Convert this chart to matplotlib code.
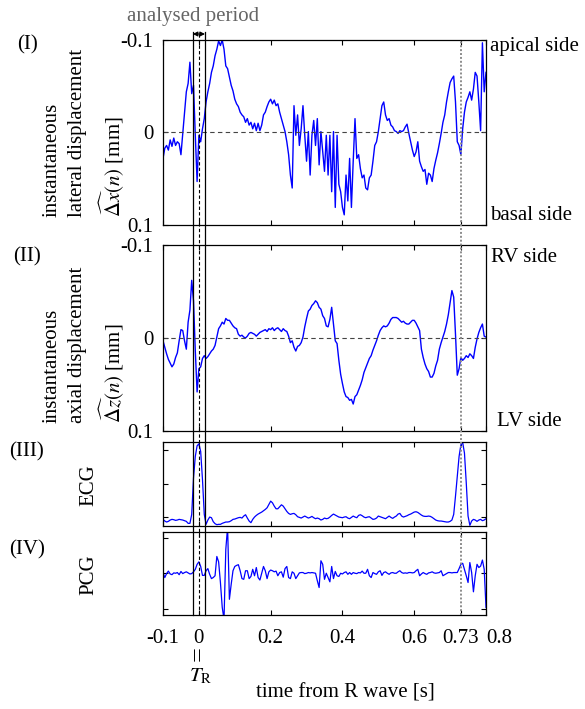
import numpy as np
import matplotlib
matplotlib.use('Agg')
import matplotlib.pyplot as plt
from matplotlib.transforms import blended_transform_factory

plt.rcParams['font.family'] = ['Liberation Serif', 'DejaVu Serif']
plt.rcParams['mathtext.fontset'] = 'stix'
plt.rcParams['font.size'] = 15

# sampled every 5 ms, starting 0.1 s before the R wave
t_start = -0.1
t_step = 0.005

# (I) lateral displacement [mm], positive = basal side
lateral = [
    0.028, 0.017, 0.014, 0.019, 0.008, 0.015, 0.006, 0.014, 0.010, 0.012,
    0.024, 0.001, -0.022, -0.044, -0.053, -0.076, -0.042, -0.051, 0.003, 0.053,
    0.003, 0.010, -0.004, -0.015, -0.033, -0.044, -0.053, -0.065, -0.072, -0.083,
    -0.090, -0.099, -0.094, -0.100, -0.090, -0.072, -0.069, -0.060, -0.051, -0.045,
    -0.036, -0.031, -0.028, -0.022, -0.019, -0.017, -0.011, -0.015, -0.008, -0.011,
    -0.004, -0.010, -0.002, -0.010, -0.002, -0.008, -0.019, -0.022, -0.028, -0.033,
    -0.036, -0.031, -0.035, -0.029, -0.031, -0.022, -0.015, -0.008, -0.001, 0.010,
    0.024, 0.046, 0.060, -0.029, 0.003, -0.019, 0.014, -0.004, -0.029, 0.003,
    0.031, -0.001, 0.046, 0.003, -0.013, 0.014, -0.015, 0.035, -0.001, 0.021,
    0.042, 0.003, 0.046, 0.003, 0.064, -0.001, 0.081, 0.003, 0.056, 0.064,
    0.081, 0.089, 0.046, 0.074, 0.028, 0.081, 0.031, -0.015, 0.028, 0.024,
    0.039, 0.049, 0.046, 0.060, 0.062, 0.049, 0.046, 0.031, 0.014, 0.010,
    -0.001, -0.015, -0.029, -0.033, -0.019, -0.013, -0.015, -0.008, -0.006, -0.002,
    -0.001, 0.001, -0.002, -0.001, -0.002, -0.006, -0.009, 0.001, 0.010, 0.019,
    0.026, 0.021, 0.010, 0.031, 0.037, 0.042, 0.040, 0.056, 0.044, 0.046,
    0.053, 0.039, 0.030, 0.022, 0.012, 0.001, -0.011, -0.019, -0.033, -0.044,
    -0.054, -0.058, -0.061, -0.033, 0.010, 0.014, 0.024, -0.004, -0.022, -0.033,
    -0.038, -0.044, -0.035, -0.047, -0.065, -0.061, -0.033, -0.002, -0.097, -0.044,
    -0.065,
]

# (II) axial displacement [mm], positive = LV side
axial = [
    0.003, 0.010, 0.017, 0.023, 0.027, 0.031, 0.028, 0.021, 0.016, 0.003,
    -0.009, -0.008, 0.003, 0.012, -0.017, -0.030, -0.062, -0.040, 0.014, 0.058,
    0.033, 0.031, 0.022, 0.019, 0.022, 0.020, 0.017, 0.014, 0.012, 0.008,
    -0.001, -0.010, -0.013, -0.017, -0.015, -0.021, -0.019, -0.019, -0.016, -0.013,
    -0.011, -0.010, -0.004, -0.002, -0.003, -0.001, 0.000, -0.002, -0.005, -0.006,
    -0.005, -0.004, -0.002, -0.004, -0.006, -0.007, -0.008, -0.009, -0.007, -0.010,
    -0.009, -0.011, -0.008, -0.010, -0.011, -0.009, -0.007, -0.010, -0.008, -0.007,
    -0.002, 0.005, 0.003, 0.010, 0.014, 0.009, 0.008, 0.005, -0.001, -0.012,
    -0.021, -0.029, -0.031, -0.035, -0.037, -0.040, -0.038, -0.033, -0.031, -0.024,
    -0.021, -0.013, -0.012, -0.020, -0.033, -0.015, 0.003, 0.006, 0.024, 0.039,
    0.049, 0.058, 0.063, 0.064, 0.067, 0.066, 0.071, 0.063, 0.061, 0.056,
    0.051, 0.045, 0.037, 0.032, 0.027, 0.022, 0.019, 0.013, 0.008, 0.003,
    -0.003, -0.008, -0.011, -0.013, -0.012, -0.013, -0.016, -0.020, -0.022, -0.022,
    -0.022, -0.021, -0.019, -0.017, -0.018, -0.016, -0.015, -0.015, -0.017, -0.019,
    -0.019, -0.016, -0.012, -0.008, 0.012, 0.021, 0.028, 0.033, 0.036, 0.042,
    0.042, 0.038, 0.030, 0.024, 0.012, 0.005, -0.001, -0.007, -0.015, -0.025,
    -0.038, -0.051, -0.044, -0.004, 0.040, 0.033, 0.021, 0.024, 0.022, 0.019,
    0.021, 0.017, 0.019, 0.022, 0.010, 0.001, -0.006, -0.011, -0.015, -0.002,
    -0.001,
]

# (III) ECG, arbitrary units (R peak ~ 1)
ecg = [
    -0.04, -0.065, -0.08, -0.07, -0.05, -0.04, -0.045, -0.055, -0.05, -0.04,
    -0.045, -0.05, -0.06, -0.07, -0.10, -0.10, 0.035, 0.585, 0.91, 1.07,
    1.10, 0.985, 0.56, 0.035, -0.115, -0.05, -0.005, -0.015, -0.075, -0.105,
    -0.12, -0.115, -0.115, -0.10, -0.09, -0.08, -0.08, -0.075, -0.06, -0.04,
    -0.035, -0.025, -0.015, -0.01, -0.02, 0.01, 0.03, -0.02, -0.065, -0.09,
    -0.04, -0.005, 0.02, 0.04, 0.055, 0.07, 0.09, 0.11, 0.135, 0.185,
    0.235, 0.21, 0.16, 0.12, 0.12, 0.15, 0.18, 0.16, 0.12, 0.08,
    0.05, 0.035, 0.045, 0.05, 0.03, 0.0, -0.01, -0.02, -0.005, 0.01,
    -0.005, -0.02, -0.01, 0.005, -0.015, -0.03, -0.02, -0.03, -0.05, -0.04,
    -0.02, -0.03, -0.025, -0.005, 0.02, 0.04, 0.025, 0.01, -0.005, -0.01,
    -0.015, -0.005, 0.0, -0.02, -0.03, -0.01, 0.01, -0.005, -0.015, 0.02,
    0.03, 0.015, -0.005, -0.015, -0.005, 0.0, -0.02, -0.04, -0.035, -0.02,
    0.01, 0.0, -0.01, -0.02, -0.03, -0.01, 0.01, -0.01, -0.025, -0.005,
    0.01, 0.04, 0.05, 0.01, -0.005, 0.005, 0.015, 0.03, 0.04, 0.055,
    0.07, 0.075, 0.065, 0.045, 0.025, 0.01, 0.005, 0.005, 0.01, 0.005,
    -0.01, -0.03, -0.05, -0.06, -0.065, -0.065, -0.07, -0.075, -0.08, -0.08,
    -0.07, -0.05, 0.035, 0.31, 0.61, 0.91, 1.085, 1.12, 0.96, 0.51,
    0.01, -0.13, -0.065, -0.04, -0.05, -0.07, -0.05, -0.04, -0.06, -0.05,
    -0.03,
]

# (IV) PCG, arbitrary units
pcg = [
    0.02, -0.12, -0.01, 0.06, -0.02, -0.04, 0.01, 0.0, 0.02, -0.04,
    0.05, -0.01, 0.02, 0.04, 0.01, -0.02, -0.01, 0.04, 0.11, 0.25,
    0.32, 0.19, -0.06, -0.06, 0.07, 0.13, -0.03, -0.15, -0.12, -0.07,
    0.47, 0.32, -0.26, -0.95, -1.3, 0.67, 1.3, -0.73, -0.31, 0.07,
    0.19, 0.22, 0.24, 0.07, -0.15, -0.17, 0.07, 0.07, -0.15, -0.09,
    0.11, -0.07, 0.16, -0.12, -0.19, 0.0, 0.19, 0.07, -0.15, 0.04,
    0.09, 0.07, 0.04, 0.06, -0.07, 0.02, 0.04, -0.11, 0.13, 0.19,
    -0.12, -0.15, 0.04, 0.0, -0.15, -0.07, 0.01, 0.02, 0.02, -0.01,
    0.0, 0.02, 0.01, 0.02, 0.01, 0.0, -0.21, -0.40, 0.35, 0.25,
    -0.17, 0.0, -0.12, -0.24, 0.19, -0.15, 0.05, -0.07, -0.09, 0.0,
    -0.02, 0.02, 0.04, -0.03, 0.02, -0.03, 0.02, 0.0, -0.01, 0.02,
    0.01, 0.06, 0.0, 0.0, 0.11, -0.07, -0.12, 0.02, -0.01, -0.03,
    0.04, 0.07, -0.06, 0.02, 0.04, 0.0, -0.03, 0.01, 0.02, 0.0,
    0.0, 0.04, 0.07, 0.02, 0.0, 0.01, 0.0, 0.02, 0.02, 0.01,
    0.02, 0.07, 0.11, -0.07, -0.02, 0.02, -0.01, -0.03, 0.01, 0.02,
    0.04, 0.01, 0.0, 0.01, 0.02, 0.07, -0.07, -0.04, -0.01, 0.02,
    0.02, 0.01, 0.02, 0.02, 0.02, 0.13, 0.25, 0.28, 0.11, -0.07,
    -0.26, 0.30, 0.02, -0.52, -0.07, 0.25, 0.16, 0.2, 0.37, 0.11,
    -0.96,
]

x_ticks = [-0.1, 0, 0.2, 0.4, 0.6, 0.73, 0.8]
x_tick_labels = ['-0.1', '0', '0.2', '0.4', '0.6', '0.73', '0.8']
disp_ticks = [-0.1, 0, 0.1]
disp_tick_labels = ['-0.1', '0', '0.1']
window = [-0.017, 0.017]   # analysed period around T_R
next_r = 0.73

t = t_start + t_step * np.arange(len(lateral))

W, H = 585, 709
fig = plt.figure(figsize=(W / 100, H / 100), dpi=100)


def box(top, bottom):
    # axes rectangle from pixel rows of the original figure
    return [163 / W, 1 - bottom / H, (486 - 163) / W, (bottom - top) / H]


ax1 = fig.add_axes(box(40, 225))
ax2 = fig.add_axes(box(245, 431))
ax3 = fig.add_axes(box(441.5, 526))
ax4 = fig.add_axes(box(531.5, 615))
axes = [ax1, ax2, ax3, ax4]

blue = '#0000ff'
ax1.plot(t, lateral, color=blue, lw=1.0)
ax2.plot(t, axial, color=blue, lw=1.0)
ax3.plot(t, ecg, color=blue, lw=0.9)
ax4.plot(t, pcg, color=blue, lw=0.9)

for ax in [ax1, ax2]:
    ax.axhline(0, color='#444444', lw=0.8, ls=(0, (4, 3)))
    ax.set_ylim(0.1, -0.1)
    ax.set_yticks(disp_ticks)
    ax.set_yticklabels(disp_tick_labels)
ax3.set_ylim(-0.14, 1.135)
ax3.set_yticks([0, 0.5, 1])
ax3.set_yticklabels([])
ax4.set_ylim(-1.17, 1.17)
ax4.set_yticks([-1, 0, 1])
ax4.set_yticklabels([])

for ax in axes:
    ax.set_xlim(-0.1, 0.8)
    ax.set_xticks(x_ticks)
    ax.tick_params(direction='in', top=True, right=True, length=3.5,
                   width=0.8, labelsize=15, pad=7)
    for s in ax.spines.values():
        s.set_linewidth(0.9)
    if ax is not ax4:
        ax.set_xticklabels([])
ax4.set_xticklabels(x_tick_labels)
ax4.tick_params(axis='x', pad=10)
ax4.get_xticklabels()[-1].set_ha('left')

# vertical markers running through all panels
trans = blended_transform_factory(ax4.transData, fig.transFigure)
y_lo, y_hi = 1 - 615 / H, 1 - 32 / H
for x in window:
    ax4.plot([x, x], [y_lo, y_hi], color='k', lw=0.9, transform=trans,
             clip_on=False, zorder=5)
ax4.plot([0, 0], [y_lo, y_hi], color='k', lw=0.8, ls=(0, (3, 2)),
         transform=trans, clip_on=False, zorder=5)
ax4.plot([next_r, next_r], [y_lo, 1 - 40 / H], color='#8c8c8c', lw=1.4,
         ls=(0, (1, 1)), transform=trans, clip_on=False, zorder=5)

trans1 = blended_transform_factory(ax1.transData, fig.transFigure)
ax1.annotate('', xy=(window[1], 1 - 34 / H), xytext=(window[0], 1 - 34 / H),
             xycoords=trans1, textcoords=trans1,
             arrowprops=dict(arrowstyle='<|-|>', color='k', lw=0.8,
                             mutation_scale=7, shrinkA=0, shrinkB=0))
ax1.text(window[0], 1 - 17 / H, 'analysed period', transform=trans1,
         ha='center', va='center', color='#666666')

# panel labels and axis titles
for txt, y in [('(I)', 45), ('(II)', 257), ('(III)', 452), ('(IV)', 550)]:
    fig.text(27 / W, 1 - y / H, txt, ha='center', va='center')

fig.text(84 / W, 1 - 217 / H,
         'instantaneous\nlateral displacement\n$\\widehat{\\Delta x}(n)$ [mm]',
         rotation=90, ha='center', va='bottom', multialignment='left',
         linespacing=1.45)
fig.text(84 / W, 1 - 423 / H,
         'instantaneous\naxial displacement\n$\\widehat{\\Delta z}(n)$ [mm]',
         rotation=90, ha='center', va='bottom', multialignment='left',
         linespacing=1.45)
fig.text(89 / W, 1 - 485 / H, 'ECG', rotation=90, ha='center', va='center')
fig.text(89 / W, 1 - 575 / H, 'PCG', rotation=90, ha='center', va='center')

fig.text(490 / W, 1 - 47 / H, 'apical side', ha='left', va='center')
fig.text(490 / W, 1 - 216 / H, 'basal side', ha='left', va='center')
fig.text(491 / W, 1 - 257 / H, 'RV side', ha='left', va='center')
fig.text(497 / W, 1 - 422 / H, 'LV side', ha='left', va='center')

fig.text(199 / W, 1 - 654 / H, '=', rotation=90, ha='center', va='center',
         fontsize=19)
fig.text(201 / W, 1 - 676 / H, '$T_\\mathrm{R}$', ha='center', va='center')
fig.text(345 / W, 1 - 693 / H, 'time from R wave [s]', ha='center',
         va='center')

fig.savefig('out.png', dpi=100)
